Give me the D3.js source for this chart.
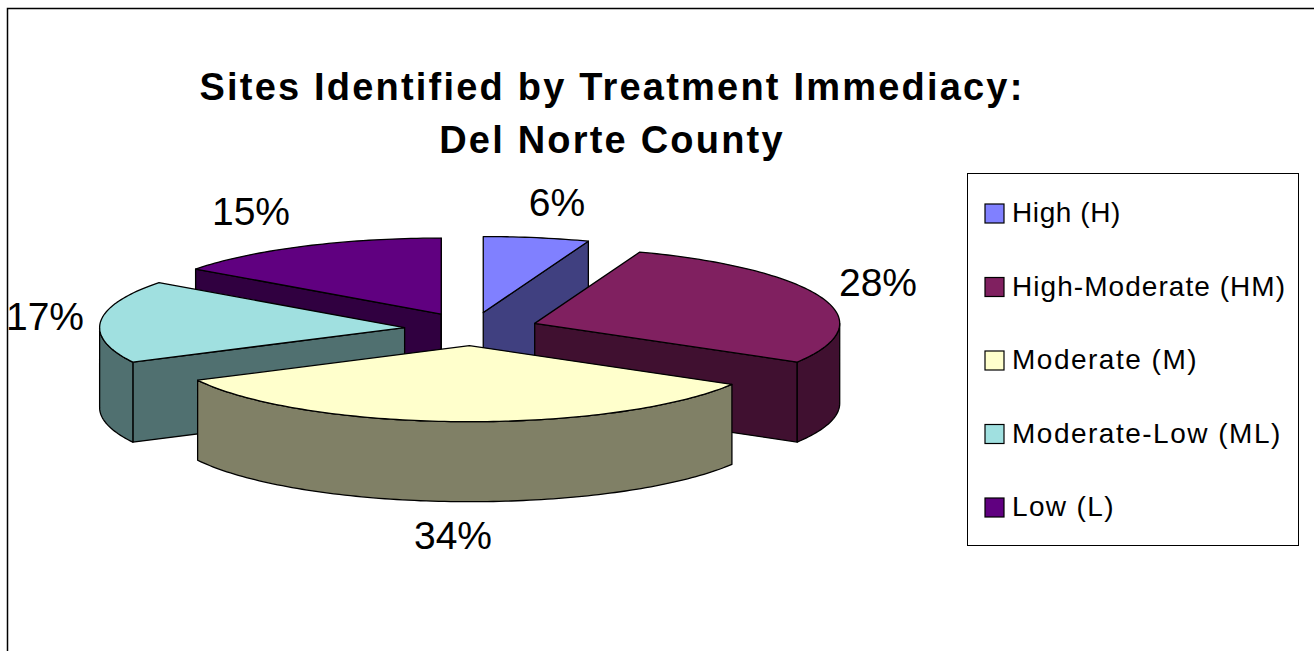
<!DOCTYPE html>
<html><head><meta charset="utf-8">
<script src="https://cdn.jsdelivr.net/npm/d3@7"></script>
<style>html,body{margin:0;padding:0;background:#fff;overflow:hidden}svg{display:block}text{font-family:"Liberation Sans",Arial,sans-serif;fill:#000}</style>
</head><body><svg id="c" width="1314" height="651"></svg>
<script>
const categories = ["High (H)","High-Moderate (HM)","Moderate (M)","Moderate-Low (ML)","Low (L)"];
const shares = [5.6, 27.9, 34.0, 17.6, 14.9];
const pctLabels = ["6%","28%","34%","17%","15%"];
const topColors = ["#8080FF","#802060","#FFFFCC","#A0E0E0","#600080"];
const sideColors = ["#404080","#401030","#808066","#507070","#300040"];
const titleLines = ["Sites Identified by Treatment Immediacy:","Del Norte County"];
const drawOrder = [4,0,1,3,2];
const labelAt = [[557,216],[878,296],[453,549],[45,330],[251,225]];
const legendTracking = [0.6,1.05,1.5,1.5,1.36];

const svg = d3.select("#c");
svg.append("path").attr("d","M7.5,651V8.5H1314").attr("fill","none").attr("stroke","#000").attr("stroke-width",1.5);

svg.selectAll(".t").data(titleLines).join("text").attr("class","t")
  .attr("x",612).attr("y",(d,i)=>100+i*53).attr("text-anchor","middle")
  .attr("font-size",38).attr("font-weight","bold").attr("letter-spacing",2.2).text(d=>d);

// projection
const cx=471.5, cy=329, rx=305, ry=76, depth=80, burst=0.22;
const X=d3.scaleLinear().domain([-1,1]).range([cx-rx,cx+rx]);
const Y=d3.scaleLinear().domain([-1,1]).range([cy-ry,cy+ry]);
const arcs=d3.pie().sort(null).value(d=>d)(shares);
const TAU=2*Math.PI;
arcs.forEach(a=>{const m=(a.startAngle+a.endAngle)/2;a.dx=burst*Math.sin(m);a.dy=-burst*Math.cos(m);});
const px=(a,t,r=1)=>X(a.dx+r*Math.sin(t));
const py=(a,t,r=1,z=0)=>Y(a.dy-r*Math.cos(t))+z;
function arcPts(a,t0,t1,z){const n=Math.max(2,Math.ceil((t1-t0)/0.02));
  return d3.range(n+1).map(i=>{const t=t0+(t1-t0)*i/n;return [px(a,t),py(a,t,1,z)];});}
const line=d3.line();
const stroke=(s)=>s.attr("stroke","#000").attr("stroke-width",1.3).attr("stroke-linejoin","round");

drawOrder.forEach(i=>{
  const a=arcs[i], g=svg.append("g");
  const wall=(t)=>{const pts=[[px(a,t,0),py(a,t,0)],[px(a,t),py(a,t)],[px(a,t),py(a,t,1,depth)],[px(a,t,0),py(a,t,0,depth)]];
    stroke(g.append("path").attr("d",line(pts)+"Z").attr("fill",sideColors[i]));};
  if(Math.sin(a.startAngle)<0) wall(a.startAngle);
  if(Math.sin(a.endAngle)>0) wall(a.endAngle);
  const f0=Math.max(a.startAngle,TAU/4), f1=Math.min(a.endAngle,3*TAU/4);
  if(f1>f0){
    const pts=arcPts(a,f0,f1,0).concat(arcPts(a,f0,f1,depth).reverse());
    stroke(g.append("path").attr("d",line(pts)+"Z").attr("fill",sideColors[i]));
  }
  const pts=[[px(a,0,0),py(a,0,0)]].concat(arcPts(a,a.startAngle,a.endAngle,0));
  stroke(g.append("path").attr("d",line(pts)+"Z").attr("fill",topColors[i]));
});

svg.selectAll(".p").data(pctLabels).join("text").attr("class","p")
  .attr("x",(d,i)=>labelAt[i][0]).attr("y",(d,i)=>labelAt[i][1]).attr("text-anchor","middle")
  .attr("font-size",39).text(d=>d);

// legend
const lg=svg.append("g");
lg.append("rect").attr("x",967.5).attr("y",173.5).attr("width",331).attr("height",372).attr("fill","#fff").attr("stroke","#000").attr("stroke-width",1);
const LY=d3.scalePoint().domain(categories).range([213.5,507.5]);
categories.forEach((c,i)=>{
  lg.append("rect").attr("x",985).attr("y",LY(c)-9.5).attr("width",19).attr("height",19).attr("fill",topColors[i]).attr("stroke","#000").attr("stroke-width",1.2);
  lg.append("text").attr("x",1012).attr("y",LY(c)+8.5).attr("font-size",28).attr("letter-spacing",legendTracking[i]).text(c);
});
</script></body></html>
